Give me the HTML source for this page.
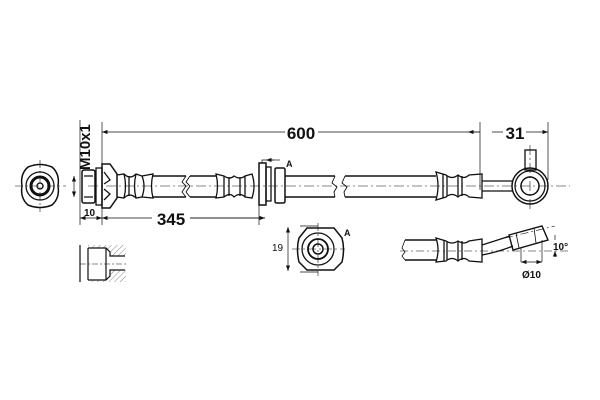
<!DOCTYPE html>
<html><head><style>html,body{margin:0;padding:0;background:#fff}svg{display:block}</style></head><body>
<svg width="600" height="400" viewBox="0 0 600 400" xmlns="http://www.w3.org/2000/svg" font-family="Liberation Sans, sans-serif" fill="none" stroke="#111" stroke-width="1.3">
<defs><marker id="a" markerWidth="8" markerHeight="6" refX="8" refY="3" orient="auto-start-reverse"><path d="M0,0L8,3L0,6z" fill="#111" stroke="none"/></marker>
<pattern id="h" width="4" height="4" patternUnits="userSpaceOnUse" patternTransform="rotate(45)"><path d="M0,0V4" stroke="#333" stroke-width="0.6"/></pattern></defs>
<!-- left end view -->
<path d="M28,167 Q40,162 52,167 Q60,174 58,186 Q60,198 52,205 Q40,210 28,205 Q20,198 22,186 Q20,174 28,167Z" stroke-width="1.5"/>
<circle cx="40" cy="186" r="14" stroke-width="1.3"/>
<circle cx="40" cy="186" r="9" stroke-width="3"/>
<circle cx="40" cy="186" r="3"/>
<path d="M15,186H66M40,160V212" stroke-width="0.6" stroke-dasharray="8 3 2 3"/>
<!-- dimension lines top -->
<path d="M102,122V225" stroke-width="0.7"/>
<path d="M80,120V225" stroke-width="0.7"/>
<path d="M102,132H285M318,132H480" stroke-width="0.7" marker-start="url(#a)"/>
<text x="301" y="139" font-size="17" font-weight="bold" fill="#111" stroke="none" text-anchor="middle">600</text>
<path d="M480,122V190M548,122V180" stroke-width="0.7"/>
<path d="M468,132H480M492,132H503" stroke-width="0.7" marker-start="url(#a)"/>
<path d="M526,132H548" stroke-width="0.7" marker-end="url(#a)"/>
<text x="515" y="139" font-size="17" font-weight="bold" fill="#111" stroke="none" text-anchor="middle">31</text>
<text transform="translate(90,170) rotate(-90)" font-size="15" font-weight="bold" fill="#111" stroke="none">M10x1</text>
<path d="M74,176V197" stroke-width="0.7" marker-start="url(#a)" marker-end="url(#a)"/>
<!-- left fitting -->
<rect x="82" y="170" width="13" height="33" rx="2" stroke-width="1.5"/>
<path d="M84,176H93M84,197H93"/>
<rect x="96" y="168" width="6" height="37"/>
<path d="M102,164H110L117,174V198L110,208H102Z" stroke-width="1.5"/>
<path d="M104,172L110,180L104,184M104,189L110,194L104,200"/>
<path d="M117,175L124,174Q130,180 136,174L142,176Q146,186 142,197L136,198Q130,192 124,198L117,197"/>
<path d="M124,174Q127,186 124,198M129,176V196M136,174Q133,186 136,198M142,176L153,174Q150,186 153,198L142,197"/>
<path d="M153,176H186M153,197H186" stroke-width="1.5"/>
<path d="M186,176L182,182L186,186L182,192L186,197M190,176L186,182L190,186L186,192L190,197" stroke-width="0.9"/>
<path d="M190,176H216M190,197H216" stroke-width="1.5"/>
<!-- middle crimp -->
<path d="M216,174L224,176Q230,180 234,176Q240,180 245,176L252,174Q256,186 252,198L245,197Q240,192 234,197Q230,192 224,197L216,198Q219,186 216,174Z"/>
<path d="M224,176V197M229,177V196M240,177V196M245,176V197"/>
<rect x="259" y="163" width="7" height="42" stroke-width="1.5"/>
<rect x="266" y="167" width="5" height="34"/>
<rect x="275" y="168" width="10" height="35" rx="1.5" stroke-width="1.5"/>
<path d="M262,163V160H274M259,205V225" stroke-width="0.7"/>
<path d="M266,160H280" stroke-width="0.7" marker-start="url(#a)"/>
<text x="286" y="167" font-size="9" font-weight="bold" fill="#111" stroke="none">A</text>
<path d="M285,176H335M285,197H335M345,176H436M345,197H436" stroke-width="1.5"/>
<path d="M335,176L332,183L337,187L334,192L335,197M345,176L342,183L347,187L344,192L345,197" stroke-width="0.9"/>
<!-- right crimp -->
<path d="M436,172L446,175Q452,180 458,175Q464,180 469,175L482,174V198L469,197Q464,192 458,197Q452,192 446,197L436,200Q440,186 436,172Z"/>
<path d="M443,174V198M447,176V196M458,176V196M462,176V196"/>
<path d="M482,181H513M482,191H513" stroke-width="1.3"/>
<!-- banjo -->
<rect x="525" y="150" width="11" height="20"/>
<circle cx="530" cy="186" r="18" stroke-width="1.5"/>
<circle cx="530" cy="186" r="15"/>
<circle cx="530" cy="186" r="9" stroke-width="1.5"/>
<path d="M88,186H570M530,145V210" stroke-width="0.6" stroke-dasharray="10 3 2 3"/>
<!-- bottom dims -->
<path d="M80,218H102" stroke-width="0.7" marker-start="url(#a)" marker-end="url(#a)"/>
<text x="84" y="216" font-size="10" font-weight="bold" fill="#111" stroke="none">10</text>
<path d="M102,218H152M190,218H265" stroke-width="0.7" marker-start="url(#a)"/>
<path d="M190,218H265" stroke-width="0.7" marker-end="url(#a)"/>
<text x="171" y="225" font-size="17" font-weight="bold" fill="#111" stroke="none" text-anchor="middle">345</text>
<!-- section bottom left -->
<path d="M88,245H126V256H110V252L106,248H88Z" fill="url(#h)" stroke="none"/>
<path d="M88,282H126V270H110V276L106,280H88Z" fill="url(#h)" stroke="none"/>
<path d="M80,245V282M88,248V280M88,248H106L110,252V256H125M88,280H106L110,276V270H125M106,248V280" stroke-width="1.2"/>
<path d="M80,264H126" stroke-width="0.6" stroke-dasharray="6 2 2 2"/>
<!-- view A -->
<path d="M300,226H318M300,272H318" stroke-width="0.7"/>
<path d="M288,227V271" stroke-width="0.7" marker-start="url(#a)" marker-end="url(#a)"/>
<text x="272" y="251" font-size="10" fill="#111" stroke="none">19</text>
<path d="M307,228H334L342,238Q345,249 342,262L334,270H307L299,262Q296,249 299,238Z" stroke-width="1.5"/>
<circle cx="318" cy="249" r="16"/>
<circle cx="318" cy="249" r="10" stroke-width="1.8"/>
<circle cx="318" cy="249" r="5" stroke-width="1.5"/>
<path d="M292,249H345M318,223V276" stroke-width="0.6" stroke-dasharray="8 3 2 3"/>
<text x="344" y="236" font-size="9" font-weight="bold" fill="#111" stroke="none">A</text>
<!-- bent view -->
<path d="M405,240H436M405,260H436" stroke-width="1.4"/>
<path d="M405,240L402,248L405,252L402,256L405,260" stroke-width="0.8"/>
<path d="M436,238L446,241Q452,245 458,241Q464,245 469,241L482,239V262L469,261Q464,256 458,261Q452,256 446,261L436,262Q440,250 436,238Z"/>
<path d="M444,240V261M447,241V260M458,241V260M462,241V260"/>
<path d="M482,245Q498,240 510,236M482,255Q498,252 513,246" stroke-width="1.3"/>
<path d="M509,235L542,226L548,240L513,250Z" stroke-width="1.4"/>
<path d="M516,233L519,248M534,228L536,243" stroke-width="0.8"/>
<path d="M400,251H570M505,238L555,226" stroke-width="0.6" stroke-dasharray="8 3 2 3"/>
<path d="M555,235V240M555,257V251" stroke-width="0.7" marker-end="url(#a)"/>
<text x="553" y="250" font-size="10" font-weight="bold" fill="#111" stroke="none">10°</text>
<path d="M521,248V262M542,240V262" stroke-width="0.7"/>
<path d="M521,262H542" stroke-width="0.7" marker-start="url(#a)" marker-end="url(#a)"/>
<text x="522" y="278" font-size="10" font-weight="bold" fill="#111" stroke="none">Ø10</text>
</svg>
</body></html>
